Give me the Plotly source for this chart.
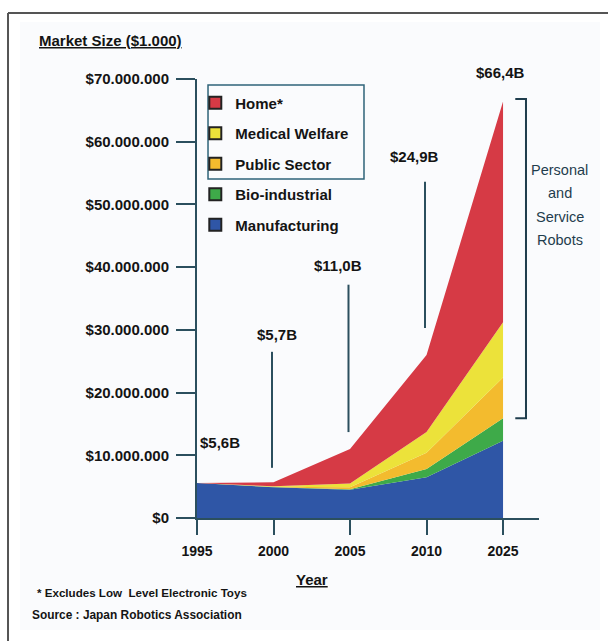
import plotly.graph_objects as go

years = ["1995", "2000", "2005", "2010", "2025"]
# values in $1,000 (stacked, bottom to top)
manufacturing = [5600000, 4900000, 4500000, 6500000, 12300000]
bio_industrial = [0, 50000, 100000, 1300000, 3600000]
public_sector = [0, 50000, 300000, 2600000, 6500000]
medical_welfare = [0, 50000, 600000, 3300000, 8800000]
home = [0, 650000, 5500000, 12300000, 35200000]

series_names = ["Manufacturing", "Bio-industrial", "Public Sector", "Medical Welfare", "Home*"]
series_values = [manufacturing, bio_industrial, public_sector, medical_welfare, home]
series_colors = ["#2F56A6", "#3EAA49", "#F3BB2E", "#ECE23A", "#D63A45"]

total_labels = ["$5,6B", "$5,7B", "$11,0B", "$24,9B", "$66,4B"]
y_tickvals = [0, 10000000, 20000000, 30000000, 40000000, 50000000, 60000000, 70000000]
y_ticktext = ["$0", "$10.000.000", "$20.000.000", "$30.000.000", "$40.000.000",
              "$50.000.000", "$60.000.000", "$70.000.000"]
bracket_lines = ["Personal", "and", "Service", "Robots"]

FONT = "Liberation Sans, Arial, sans-serif"
TXT = "#141414"
AX = "#2b4f5e"

fig = go.Figure()
for name, vals, col in zip(series_names, series_values, series_colors):
    fig.add_trace(go.Scatter(x=years, y=vals, name=name, stackgroup="one", mode="none",
                             fillcolor=col, line=dict(width=0), showlegend=False,
                             hoverinfo="x+y+name"))

# legend entries (square markers), top entry first
for i, (name, col) in enumerate(reversed(list(zip(series_names, series_colors)))):
    fig.add_trace(go.Scatter(x=[None], y=[None], mode="markers", name=name,
                             marker=dict(symbol="square", size=12, color=col,
                                         line=dict(color="#222", width=1)),
                             legendgroup=f"g{i}", showlegend=True))

shapes = []
# outer panel and frame
shapes.append(dict(type="rect", xref="paper", yref="paper", x0=-0.5175, x1=1.178, y0=-0.2551, y1=1.1298,
                   fillcolor="#FAFBFD", line=dict(width=0), layer="below"))
shapes.append(dict(type="line", xref="paper", yref="paper", x0=-0.5526, x1=1.21, y0=1.1503, y1=1.1503,
                   line=dict(color="#555", width=2)))
shapes.append(dict(type="line", xref="paper", yref="paper", x0=-0.5526, x1=-0.5526, y0=1.1503, y1=-0.29,
                   line=dict(color="#555", width=2)))
# legend partial box
shapes.append(dict(type="rect", xref="paper", yref="paper", x0=0.0322, x1=0.4883, y0=0.7722, y1=0.9863,
                   line=dict(color="#2f6479", width=1.5)))
# callout lines
callouts = [(1, 8.0e6, 26.5e6), (2, 13.7e6, 37.2e6), (3, 30.3e6, 53.6e6)]
for cx, y0, y1 in callouts:
    shapes.append(dict(type="line", xref="x", yref="y", x0=cx - 0.02, x1=cx - 0.02, y0=y0, y1=y1,
                       line=dict(color=AX, width=2)))
# bracket
bx, bxl, byt, byb = 4.30, 4.16, 66.8e6, 15.9e6
shapes.append(dict(type="path", xref="x", yref="y",
                   path=f"M {bxl},{byt} L {bx},{byt} L {bx},{byb} L {bxl},{byb}",
                   line=dict(color="#1f3d4d", width=2)))

annotations = []
label_pos = [(0.30, 12.0e6), (1.05, 29.2e6), (1.84, 40.3e6), (2.84, 57.6e6)]
for txt, (lx, ly) in zip(total_labels[:4], label_pos):
    annotations.append(dict(x=lx, y=ly, xref="x", yref="y", text=txt, showarrow=False,
                            xanchor="center", yanchor="middle",
                            font=dict(family=FONT, size=15, color=TXT, weight="bold")))
annotations.append(dict(x=0.886, y=1.0137, xref="paper", yref="paper", text=total_labels[4],
                        showarrow=False, xanchor="center", yanchor="middle",
                        font=dict(family=FONT, size=15, color=TXT, weight="bold")))
for line, py in zip(bracket_lines, [0.7927, 0.7403, 0.6856, 0.6333]):
    annotations.append(dict(x=1.0614, y=py, xref="paper", yref="paper", text=line, showarrow=False,
                            xanchor="center", yanchor="middle",
                            font=dict(family=FONT, size=14.5, color="#1f3d4d")))
annotations.append(dict(x=-0.4678, y=1.0888, xref="paper", yref="paper", xanchor="left",
                        yanchor="middle", text="<u>Market Size ($1.000)</u>", showarrow=False,
                        font=dict(family=FONT, size=15, color=TXT, weight="bold")))
annotations.append(dict(x=0.336, y=-0.1412, xref="paper", yref="paper", xanchor="center",
                        yanchor="middle", text="<u>Year</u>", showarrow=False,
                        font=dict(family=FONT, size=15, color=TXT, weight="bold")))
annotations.append(dict(x=-0.4737, y=-0.1708, xref="paper", yref="paper", xanchor="left",
                        yanchor="middle", text="* Excludes Low  Level Electronic Toys", showarrow=False,
                        font=dict(family=FONT, size=11.6, color=TXT, weight="bold")))
annotations.append(dict(x=-0.4883, y=-0.221, xref="paper", yref="paper", xanchor="left",
                        yanchor="middle", text="Source : Japan Robotics Association", showarrow=False,
                        font=dict(family=FONT, size=11.9, color=TXT, weight="bold")))

fig.update_layout(
    width=608, height=641,
    margin=dict(l=197, r=69, t=79, b=123),
    paper_bgcolor="white", plot_bgcolor="rgba(0,0,0,0)",
    shapes=shapes, annotations=annotations,
    showlegend=True,
    legend=dict(x=-0.005, y=0.983, xanchor="left", yanchor="top", bgcolor="rgba(0,0,0,0)",
                font=dict(family=FONT, size=15, color=TXT, weight="bold"),
                tracegroupgap=8, traceorder="grouped", itemsizing="constant"),
    xaxis=dict(type="category", range=[0, 4.47], showgrid=False, zeroline=False,
               showline=True, linecolor=AX, linewidth=2,
               ticks="outside", ticklen=15, tickwidth=2, tickcolor=AX,
               ticklabelstandoff=4,
               tickfont=dict(family=FONT, size=14, color=TXT, weight="bold")),
    yaxis=dict(range=[0, 70000000], showgrid=False, zeroline=False,
               showline=True, linecolor=AX, linewidth=2,
               tickvals=y_tickvals, ticktext=y_ticktext,
               ticks="outside", ticklen=19, tickwidth=2, tickcolor=AX,
               ticklabelstandoff=4,
               tickfont=dict(family=FONT, size=15, color=TXT, weight="bold")),
)

fig.write_html("out.html")
